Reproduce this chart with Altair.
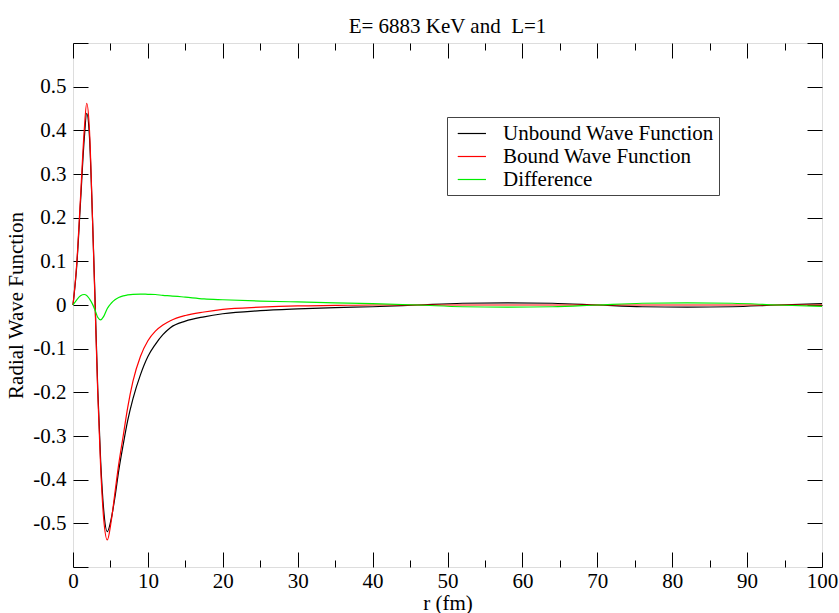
import altair as alt
import pandas as pd

r_vals = [0, 0.5, 1.0, 1.5, 1.83, 2.2, 2.6, 2.95, 3.3, 3.7, 4.1, 4.58, 5.1, 5.6,
          6.1, 6.7, 7.3, 8.0, 9.0, 10, 11, 12, 13, 15, 17.5, 20, 25, 30, 35, 40,
          46, 52, 58, 64, 70, 76, 82, 88, 94, 100]

unbound = [0, 0.09, 0.235, 0.38, 0.439, 0.385, 0.20, 0.01, -0.19, -0.36, -0.47,
           -0.519, -0.49, -0.44, -0.38, -0.32, -0.265, -0.215, -0.16, -0.118,
           -0.090, -0.068, -0.052, -0.037, -0.027, -0.020, -0.013, -0.009,
           -0.006, -0.004, 0.0, 0.004, 0.005, 0.004, 0.0, -0.004, -0.005,
           -0.004, 0.0, 0.003]

bound = [0, 0.095, 0.245, 0.40, 0.462, 0.40, 0.20, 0.0, -0.20, -0.375, -0.49,
         -0.538, -0.495, -0.43, -0.365, -0.30, -0.235, -0.175, -0.118, -0.082,
         -0.060, -0.046, -0.036, -0.024, -0.016, -0.010, -0.005, -0.002,
         -0.001, 0, 0, 0, 0, 0, 0, 0, 0, 0, 0, 0]

difference = [0, 0.012, 0.021, 0.024, 0.022, 0.014, 0.002, -0.012, -0.028,
              -0.034, -0.026, -0.008, 0.004, 0.012, 0.017, 0.021, 0.023, 0.0245,
              0.025, 0.0245, 0.024, 0.022, 0.021, 0.018, 0.014, 0.012, 0.009,
              0.007, 0.005, 0.003, 0.0, -0.004, -0.005, -0.004, 0.0, 0.004,
              0.005, 0.004, 0.0, -0.003]

series_names = ["Unbound Wave Function", "Bound Wave Function", "Difference"]
series_colors = ["#000000", "#ff0000", "#00ee00"]

x_major = [0, 10, 20, 30, 40, 50, 60, 70, 80, 90, 100]
x_minor = [5, 15, 25, 35, 45, 55, 65, 75, 85, 95]
y_major = [-0.6, -0.5, -0.4, -0.3, -0.2, -0.1, 0, 0.1, 0.2, 0.3, 0.4, 0.5, 0.6]
y_labels = [-0.5, -0.4, -0.3, -0.2, -0.1, 0, 0.1, 0.2, 0.3, 0.4, 0.5]

rows = []
for name, vals in zip(series_names, [unbound, bound, difference]):
    for r, v in zip(r_vals, vals):
        rows.append({"r": r, "value": v, "series": name})
df = pd.DataFrame(rows)

FONT = "Liberation Serif"
FS = 21
xs = alt.Scale(domain=[0, 100], nice=False, zero=False)
ys = alt.Scale(domain=[-0.6, 0.6], nice=False, zero=False)

lines = alt.Chart(df).mark_line(strokeWidth=1.2, interpolate="monotone").encode(
    x=alt.X("r:Q", scale=xs, axis=alt.Axis(
        orient="bottom", values=x_major, ticks=False, domain=False, grid=False,
        title="r (fm)", labelPadding=3, labelFontSize=FS, labelFont=FONT,
        labelColor="black", titleFontSize=FS, titleFont=FONT, titleFontWeight="normal",
        titleColor="black", titlePadding=1, labelFlush=False)),
    y=alt.Y("value:Q", scale=ys, axis=alt.Axis(
        orient="left", values=y_labels, ticks=False, domain=False, grid=False,
        title="Radial Wave Function", labelPadding=7, labelFontSize=FS, labelFont=FONT,
        labelColor="black", titleFontSize=FS, titleFont=FONT, titleFontWeight="normal",
        titleColor="black", titlePadding=6, labelFlush=False,
        labelExpr="datum.value == 0 ? '0' : replace(format(datum.value, '.1f'), '\u2212', '-')")),
    color=alt.Color("series:N", sort=series_names,
                    scale=alt.Scale(domain=series_names, range=series_colors),
                    legend=alt.Legend(
                        title=None, orient="none", legendX=374, legendY=74,
                        symbolType="M-0.55,0L2.14,0", symbolSize=441,
                        symbolStrokeWidth=1.2,
                        labelFontSize=FS, labelFont=FONT, labelColor="black",
                        labelOffset=28, labelLimit=400, rowPadding=1,
                        padding=5, strokeColor="#444444", fillColor="white",
                        cornerRadius=0, offset=0))
)

def tick_layer(orient, values, size):
    base = alt.Chart(df).mark_point(opacity=0)
    tick_axis = alt.Axis(orient=orient, values=values, tickSize=size, offset=-size,
                         labels=False, domain=False, grid=False, title=None,
                         ticks=True, tickColor="black", tickWidth=1)
    if orient in ("bottom", "top"):
        return base.encode(x=alt.X("r:Q", scale=xs, axis=tick_axis),
                           y=alt.Y("value:Q", scale=ys, axis=None))
    return base.encode(x=alt.X("r:Q", scale=xs, axis=None),
                       y=alt.Y("value:Q", scale=ys, axis=tick_axis))

chart = alt.layer(
    lines,
    tick_layer("bottom", x_major, 15),
    tick_layer("bottom", x_minor, 7),
    tick_layer("top", x_major, 15),
    tick_layer("top", x_minor, 7),
    tick_layer("left", y_major, 15),
    tick_layer("right", y_major, 15),
).resolve_axis(x="independent", y="independent").properties(
    width=749, height=524,
    title=alt.TitleParams("E= 6883 KeV and\u00a0 L=1", font=FONT, fontSize=FS,
                          fontWeight="normal", color="black", anchor="middle",
                          offset=6),
    autosize=alt.AutoSizeParams(type="none"),
    padding={"left": 73, "top": 43, "right": 17, "bottom": 46},
).configure_view(stroke="black", strokeWidth=1.2).configure(background="white")

chart.save("out.html", embed_options={"renderer": "svg", "actions": False})
